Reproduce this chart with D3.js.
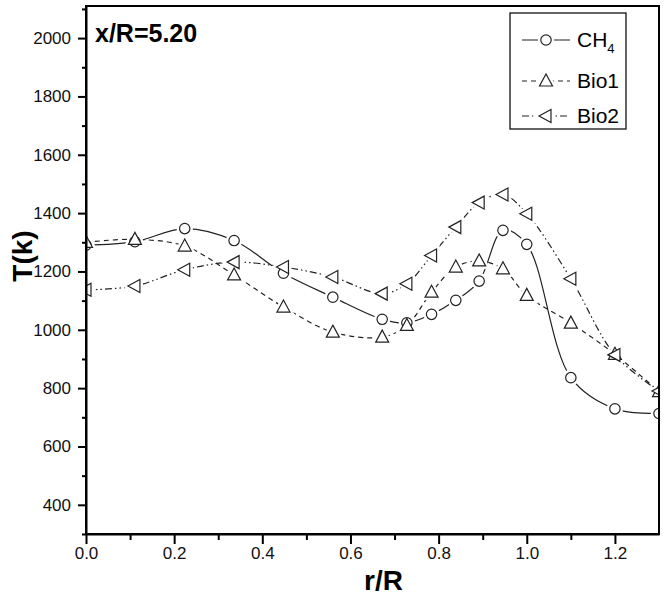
<!DOCTYPE html>
<html><head><meta charset="utf-8">
<script src="https://cdn.jsdelivr.net/npm/d3@7"></script>
<style>body{margin:0;background:#fff;} text{font-family:Arial,"Liberation Sans",sans-serif;}</style>
</head><body>
<svg id="c" width="667" height="600"></svg>
<script>
const rR = [0, 0.111, 0.224, 0.336, 0.448, 0.56, 0.672, 0.728, 0.784, 0.839, 0.892, 0.946, 1.0, 1.1, 1.2, 1.3];
const ch4  = [1290, 1302, 1347, 1306, 1194, 1112, 1036, 1024, 1053, 1101, 1167, 1341, 1293, 836, 729, 713];
const bio1 = [1300, 1310, 1287, 1188, 1078, 992, 975, 1015, 1129, 1215, 1236, 1209, 1118, 1023, 916, 788];
const bio2 = [1137, 1150, 1206, 1232, 1215, 1181, 1124, 1158, 1255, 1352, 1436, 1464, 1398, 1175, 914, 790];
const seriesNames = ["CH4", "Bio1", "Bio2"];
const xTicks = [0, 0.2, 0.4, 0.6, 0.8, 1.0, 1.2];
const xMinor = [0.1, 0.3, 0.5, 0.7, 0.9, 1.1];
const yTicks = [400, 600, 800, 1000, 1200, 1400, 1600, 1800, 2000];
const yMinor = [300, 500, 700, 900, 1100, 1300, 1500, 1700, 1900, 2100];

const L = 86, R = 659, T = 6, B = 534;
const svg = d3.select("#c");
const x = d3.scaleLinear().domain([0, 1.3]).range([L, R]);
const y = d3.scaleLinear().domain([300, 2110]).range([B, T]);

svg.append("defs").append("clipPath").attr("id","clip")
  .append("rect").attr("x",L).attr("y",T).attr("width",R-L).attr("height",B-T);

const series = [
  {name: seriesNames[0], vals: ch4, dash: null, shape: "circle"},
  {name: seriesNames[1], vals: bio1, dash: "5,4", shape: "up"},
  {name: seriesNames[2], vals: bio2, dash: "7,3,1.5,3,1.5,3", shape: "left"}
];
const shapes = {
  up: "M0,-7L6.5,5L-6.5,5Z",
  left: "M-7,0L5,-6.5L5,6.5Z"
};
function marker(g, shape, cx, cy, halo) {
  let m;
  if (shape === "circle") m = g.append("circle").attr("cx",cx).attr("cy",cy).attr("r",5.2);
  else m = g.append("path").attr("d",shapes[shape]).attr("transform",`translate(${cx},${cy})`);
  m.attr("fill", halo ? "none" : "#fff")
   .attr("stroke", halo ? "#fff" : "#222")
   .attr("stroke-width", halo ? 6 : 1.2);
}

const plot = svg.append("g").attr("clip-path","url(#clip)");
const line = d3.line().curve(d3.curveCatmullRom.alpha(0.5));
series.forEach(s => {
  const pts = rR.map((v,i)=>[x(v), y(s.vals[i])]);
  plot.append("path").attr("d", line(pts)).attr("fill","none")
    .attr("stroke","#222").attr("stroke-width",1.2)
    .attr("stroke-dasharray", s.dash);
});
series.forEach(s => {
  rR.forEach((v,i)=> marker(plot, s.shape, x(v), y(s.vals[i]), true));
});
series.forEach(s => {
  rR.forEach((v,i)=> marker(plot, s.shape, x(v), y(s.vals[i]), false));
});

// axes
const ax = svg.append("g").attr("transform",`translate(0,${B})`)
  .call(d3.axisBottom(x).tickValues(xTicks).tickFormat(d3.format(".1f")).tickSize(10).tickSizeOuter(0));
ax.selectAll("text").attr("font-size",17).attr("fill","#111").attr("dy","0.71em").attr("y",13);
svg.append("g").attr("transform",`translate(0,${B})`)
  .call(d3.axisBottom(x).tickValues(xMinor).tickFormat("").tickSize(6).tickSizeOuter(0))
  .select(".domain").remove();
const ay = svg.append("g").attr("transform",`translate(${L},0)`)
  .call(d3.axisLeft(y).tickValues(yTicks).tickFormat(d3.format("d")).tickSize(8).tickSizeOuter(0));
ay.selectAll("text").attr("font-size",17).attr("fill","#111").attr("x",-15);
svg.append("g").attr("transform",`translate(${L},0)`)
  .call(d3.axisLeft(y).tickValues(yMinor).tickFormat("").tickSize(4).tickSizeOuter(0))
  .select(".domain").remove();
svg.selectAll(".tick line").attr("stroke","#000").attr("stroke-width",2);
svg.selectAll(".domain").attr("stroke","#000").attr("stroke-width",2);

// frame
svg.append("rect").attr("x",L).attr("y",T).attr("width",R-L).attr("height",B-T)
  .attr("fill","none").attr("stroke","#000").attr("stroke-width",2);

// titles
svg.append("text").attr("x",95).attr("y",42).attr("font-size",25).attr("font-weight","bold")
  .attr("fill","#000").text("x/R=5.20");
svg.append("text").attr("x",(L+R)/2 + 11).attr("y",590).attr("text-anchor","middle")
  .attr("font-size",28).attr("font-weight","bold").attr("fill","#000").text("r/R");
svg.append("text").attr("transform","translate(32,256) rotate(-90)").attr("text-anchor","middle")
  .attr("font-size",28).attr("font-weight","bold").attr("fill","#000").text("T(k)");

// legend
const lg = svg.append("g");
lg.append("rect").attr("x",510).attr("y",13).attr("width",116).attr("height",116)
  .attr("fill","#fff").attr("stroke","#111").attr("stroke-width",1.3);
const ly = [40, 81, 116];
series.forEach((s,i)=>{
  lg.append("line").attr("x1",522).attr("x2",570).attr("y1",ly[i]).attr("y2",ly[i])
    .attr("stroke","#222").attr("stroke-width",1.2).attr("stroke-dasharray", s.dash);
  marker(lg, s.shape, 546, ly[i], true);
  marker(lg, s.shape, 546, ly[i], false);
  const t = lg.append("text").attr("x",577).attr("y",ly[i]+7).attr("font-size",21).attr("fill","#000");
  if (s.name === "CH4") {
    t.append("tspan").text("CH");
    t.append("tspan").attr("font-size",13).attr("dy",6).text("4");
  } else t.text(s.name);
});
</script>
</body></html>
